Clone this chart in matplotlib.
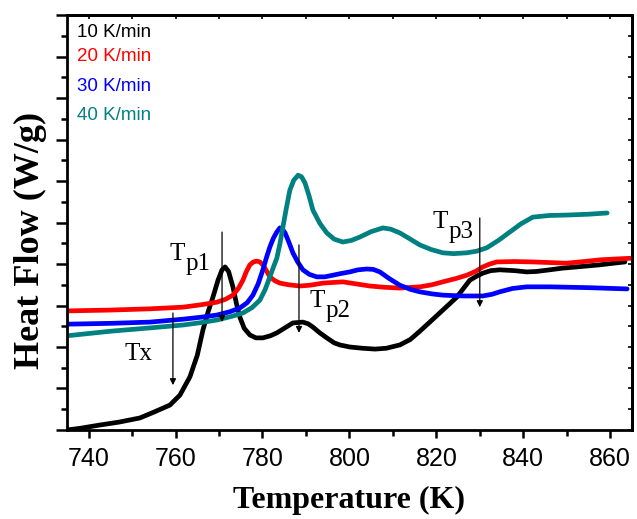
import matplotlib
matplotlib.use("Agg")
import matplotlib.pyplot as plt
from matplotlib.ticker import MultipleLocator, NullFormatter

# ---------------- data ----------------
t_10 = [735.0, 738.0, 742.6, 747.0, 751.8, 755.0, 758.7, 761.0, 763.3, 765.0, 766.3, 767.5,
        768.6, 769.8, 770.7, 771.4, 772.2, 773.2, 774.0, 774.8, 775.8, 777.1, 778.5, 780.1,
        781.8, 783.3, 785.0, 787.0, 789.3, 790.5, 791.6, 793.2, 794.8, 796.5, 797.8, 800.1,
        803.0, 805.9, 808.5, 811.6, 814.0, 816.2, 818.5, 821.5, 824.7, 827.7, 829.5, 830.7,
        832.5, 834.6, 838.0, 840.8, 843.0, 846.1, 849.0, 852.3, 857.6, 860.0, 863.4]
hf_10 = [0.00, 0.04, 0.12, 0.19, 0.29, 0.43, 0.60, 0.84, 1.28, 1.80, 2.41, 2.85,
         3.20, 3.62, 3.86, 3.93, 3.82, 3.45, 3.05, 2.72, 2.45, 2.29, 2.22, 2.22,
         2.27, 2.34, 2.45, 2.58, 2.60, 2.56, 2.48, 2.34, 2.22, 2.10, 2.05, 2.00,
         1.97, 1.95, 1.97, 2.05, 2.18, 2.38, 2.60, 2.89, 3.20, 3.61, 3.72, 3.78,
         3.84, 3.86, 3.84, 3.81, 3.82, 3.86, 3.90, 3.93, 3.98, 4.01, 4.05]

t_20 = [735.0, 745.0, 754.1, 761.7, 766.0, 769.5, 771.5, 773.2, 774.5, 775.5, 776.3, 777.1,
        777.9, 778.7, 779.4, 780.1, 780.9, 781.7, 782.8, 784.0, 786.0, 788.6, 791.0, 793.9,
        798.5, 801.0, 804.7, 808.0, 811.6, 816.2, 819.0, 821.5, 824.5, 827.0, 829.0, 830.7,
        832.3, 833.9, 838.0, 842.2, 850.0, 854.0, 857.6, 861.0, 865.0]
hf_20 = [2.87, 2.89, 2.92, 2.96, 3.02, 3.08, 3.15, 3.25, 3.42, 3.61, 3.82, 3.98,
         4.05, 4.07, 4.05, 3.98, 3.84, 3.69, 3.60, 3.54, 3.50, 3.47, 3.49, 3.54,
         3.57, 3.53, 3.47, 3.44, 3.42, 3.45, 3.50, 3.57, 3.65, 3.73, 3.82, 3.93,
         4.00, 4.05, 4.06, 4.05, 4.02, 4.06, 4.10, 4.12, 4.14]

t_30 = [735.0, 745.0, 754.1, 761.7, 766.0, 769.5, 772.5, 774.8, 776.5, 777.8, 779.0, 780.1,
        780.9, 781.7, 782.5, 783.3, 784.0, 784.6, 785.2, 786.1, 787.0, 788.1, 789.3, 790.8,
        792.5, 794.3, 796.2, 798.0, 800.1, 802.0, 804.0, 805.5, 807.0, 809.3, 811.6, 814.0,
        816.2, 819.0, 821.5, 826.0, 830.7, 832.8, 834.6, 837.5, 840.8, 846.1, 855.0, 863.9]
hf_30 = [2.55, 2.57, 2.60, 2.67, 2.72, 2.77, 2.85, 2.94, 3.07, 3.25, 3.52, 3.86,
         4.15, 4.41, 4.62, 4.77, 4.87, 4.84, 4.75, 4.52, 4.27, 4.05, 3.86, 3.75,
         3.69, 3.69, 3.73, 3.77, 3.81, 3.86, 3.88, 3.87, 3.81, 3.64, 3.49, 3.39,
         3.33, 3.28, 3.25, 3.23, 3.23, 3.27, 3.33, 3.41, 3.45, 3.45, 3.43, 3.40]

t_40 = [735.0, 745.0, 754.1, 761.7, 766.0, 769.5, 773.0, 775.5, 777.6, 779.4, 780.6, 781.7,
        782.5, 783.3, 784.0, 784.7, 785.5, 786.3, 787.2, 788.2, 789.0, 789.8, 790.7, 791.6,
        793.2, 794.8, 796.5, 798.5, 800.5, 802.4, 805.0, 807.7, 809.5, 811.6, 814.0, 816.2,
        818.8, 821.5, 824.0, 827.0, 829.3, 831.6, 834.3, 836.9, 839.5, 842.2, 846.0, 850.0,
        855.0, 859.3]
hf_40 = [2.27, 2.38, 2.46, 2.53, 2.59, 2.65, 2.74, 2.82, 2.95, 3.13, 3.38, 3.69,
         3.92, 4.14, 4.48, 4.89, 5.35, 5.78, 6.02, 6.14, 6.10, 5.95, 5.65, 5.30,
         4.98, 4.75, 4.60, 4.53, 4.57, 4.65, 4.78, 4.87, 4.84, 4.75, 4.60, 4.46,
         4.35, 4.27, 4.25, 4.27, 4.31, 4.39, 4.57, 4.77, 4.97, 5.13, 5.17, 5.18,
         5.20, 5.23]

series_labels = ["10 K/min", "20 K/min", "30 K/min", "40 K/min"]
series_colors = ["#000000", "#ff0000", "#0000ff", "#008080"]

# annotation arrows: (x, y_start, y_end)
arrow_x = [759.4, 770.7, 788.4, 830.0]
arrow_y0 = [2.82, 4.77, 4.46, 5.11]
arrow_y1 = [1.08, 2.60, 2.34, 2.96]

# annotation labels: main letter, subscript, anchor (left x, baseline y)
ann_main = ["T", "T", "T", "T"]
ann_sub = ["x", "p1", "p2", "p3"]
ann_x = [748.3, 758.7, 790.9, 819.2]
ann_y = [1.69, 4.10, 2.96, 4.87]

xticks = [740, 760, 780, 800, 820, 840, 860]

# ---------------- figure ----------------
fig = plt.figure(figsize=(6.37, 5.19), dpi=100)
ax = fig.add_axes([0.105, 0.1715, 0.887, 0.7995])

data = [(t_10, hf_10), (t_20, hf_20), (t_30, hf_30), (t_40, hf_40)]
for (t, h), c in zip(data, series_colors):
    ax.plot(t, h, color=c, lw=3.4, solid_capstyle='round', solid_joinstyle='round')

ax.set_xlim(735, 865)
ax.set_ylim(0, 10)

for s in ax.spines.values():
    s.set_linewidth(2.0)

ax.xaxis.set_major_locator(plt.FixedLocator(xticks))
ax.xaxis.set_minor_locator(MultipleLocator(10))
ax.yaxis.set_major_locator(MultipleLocator(1))
ax.yaxis.set_minor_locator(MultipleLocator(0.5))
ax.yaxis.set_major_formatter(NullFormatter())
ax.tick_params(axis='x', which='major', direction='out', length=6, width=1.8,
               labelsize=18, pad=6)
ax.tick_params(axis='x', which='minor', direction='out', length=4, width=1.8)
ax.tick_params(axis='y', which='major', direction='out', length=8, width=1.8)
ax.tick_params(axis='y', which='minor', direction='out', length=4, width=1.8)
for lab in ax.get_xticklabels():
    lab.set_fontfamily('Liberation Sans')

# top / right inward ticks
secx = ax.secondary_xaxis('top')
secx.xaxis.set_major_locator(MultipleLocator(10))
secx.xaxis.set_major_formatter(NullFormatter())
secx.tick_params(direction='in', length=3, width=1.2)
secx.spines['top'].set_linewidth(2.0)
secy = ax.secondary_yaxis('right')
secy.yaxis.set_major_locator(MultipleLocator(0.5))
secy.yaxis.set_major_formatter(NullFormatter())
secy.tick_params(direction='in', length=3, width=1.2)
secy.spines['right'].set_linewidth(2.0)

ax.set_xlabel("Temperature (K)", fontfamily='Liberation Serif', fontweight='bold',
              fontsize=23, labelpad=11)
ax.set_ylabel("Heat Flow (W/g)", fontfamily='Liberation Serif', fontweight='bold',
              fontsize=26)
ax.yaxis.set_label_coords(-0.036, 0.458)

# legend as colored text
leg_y = [0.957, 0.899, 0.829, 0.759]
for lab, c, yy in zip(series_labels, series_colors, leg_y):
    ax.text(0.018, yy, lab, color=c, transform=ax.transAxes, fontsize=13.5,
            fontfamily='Liberation Sans', va='center', ha='left')

# arrows
for xa, y0, y1 in zip(arrow_x, arrow_y0, arrow_y1):
    ax.annotate("", xy=(xa, y1), xytext=(xa, y0),
                arrowprops=dict(arrowstyle='-|>', color='black', lw=0.9,
                                mutation_scale=9, shrinkA=0, shrinkB=0))

serif = 'Liberation Serif'
for m, sub, xx, yy in zip(ann_main, ann_sub, ann_x, ann_y):
    if sub == "x":
        ax.text(xx, yy, m + sub, fontsize=18, fontfamily=serif, ha='left', va='baseline')
    else:
        ax.text(xx, yy, m, fontsize=18, fontfamily=serif, ha='left', va='baseline')
        ax.annotate(sub, xy=(xx, yy), xytext=(11, -7), textcoords='offset points',
                    fontsize=18, fontfamily=serif, ha='left', va='baseline')

fig.savefig("out.png", dpi=100)
